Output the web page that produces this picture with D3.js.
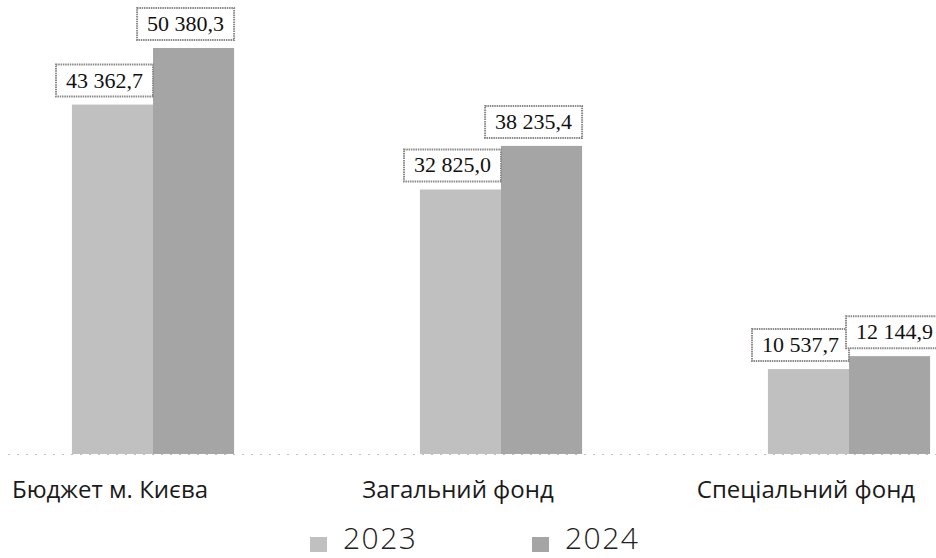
<!DOCTYPE html>
<html><head><meta charset="utf-8">
<script src="https://cdn.jsdelivr.net/npm/d3@7"></script>
<style>body{margin:0;background:#fff}svg{display:block}</style>
</head><body><svg id="c" width="936" height="558"></svg>
<script>
const categories = ["Бюджет м. Києва", "Загальний фонд", "Спеціальний фонд"];
const seriesNames = ["2023", "2024"];
const values2023 = [43362.7, 32825.0, 10537.7];
const values2024 = [50380.3, 38235.4, 12144.9];
const labels2023 = ["43 362,7", "32 825,0", "10 537,7"];
const labels2024 = ["50 380,3", "38 235,4", "12 144,9"];

const colors = {"2023": "#c0c0c0", "2024": "#a5a5a5"};
const svg = d3.select("#c");
const W = 936, H = 558, base = 454;

const x0 = d3.scaleBand().domain(categories).range([-21, 1023]).paddingInner(0.534).paddingOuter(0.267);
const x1 = d3.scaleBand().domain(seriesNames).range([0, x0.bandwidth()]).padding(0);
const y = d3.scaleLinear().domain([0, 56340]).range([base, 0]);

// baseline (dotted)
svg.append("line").attr("x1", 8).attr("x2", W).attr("y1", base + 0.5).attr("y2", base + 0.5)
  .attr("stroke", "#bdbdbd").attr("stroke-width", 1.2).attr("stroke-dasharray", "2 7");

const rows = categories.map((c, i) => ({c, vals: [
  {s: "2023", v: values2023[i], t: labels2023[i]},
  {s: "2024", v: values2024[i], t: labels2024[i]}]}));

const g = svg.selectAll("g.grp").data(rows).join("g").attr("class", "grp")
  .attr("transform", d => `translate(${x0(d.c)},0)`);

g.selectAll("rect.bar").data(d => d.vals).join("rect").attr("class", "bar")
  .attr("x", d => x1(d.s)).attr("width", x1.bandwidth())
  .attr("y", d => y(d.v)).attr("height", d => base - y(d.v))
  .attr("fill", d => colors[d.s]);

// data labels (boxes right-aligned to bar edge, nudged right if they would cover the neighbour)
g.each(function(row) {
  const gx = x0(row.c);
  let prev = null;
  row.vals.forEach(d => {
    const sel = d3.select(this).append("g").attr("class", "lbl");
    const txt = sel.append("text").text(d.t)
      .attr("font-family", "'Liberation Serif', 'Times New Roman', serif")
      .attr("font-size", 22).attr("fill", "#111");
    const tw = txt.node().getComputedTextLength();
    const padX = 10, bh = 32;
    const right = x1(d.s) + x1.bandwidth();
    const bottom = y(d.v) - 8;
    const top = bottom - bh;
    let left = right - tw - 2 * padX;
    if (prev && top < prev.bottom && bottom > prev.top && left < prev.right - 3) left = prev.right - 3;
    let boxW = tw + 2 * padX;
    if (gx + left + boxW > W + 6) boxW = W + 6 - gx - left;
    sel.insert("rect", "text")
      .attr("x", left).attr("y", top)
      .attr("width", boxW).attr("height", bh)
      .attr("fill", "#fff").attr("stroke", "#8a8a8a").attr("stroke-width", 2)
      .attr("stroke-dasharray", "1.5 0.8");
    let tx = left + padX;
    if (gx + tx + tw > W - 2) tx = W - 2 - gx - tw;
    txt.attr("x", tx).attr("y", bottom - 9);
    prev = {top, bottom, right: left + boxW};
  });
});

// category labels
svg.selectAll("text.cat").data(categories).join("text").attr("class", "cat")
  .attr("x", d => x0(d) + x0.bandwidth() / 2 - 43).attr("y", 498)
  .attr("text-anchor", "middle")
  .attr("font-family", "'Open Sans', 'Noto Sans', sans-serif")
  .attr("font-size", 24).attr("fill", "#1a1a1a").text(d => d);

// legend
const legX = {"2023": 310, "2024": 532};
const leg = svg.selectAll("g.leg").data(seriesNames).join("g").attr("class", "leg")
  .attr("transform", d => `translate(${legX[d]},0)`);
leg.append("rect").attr("x", 0).attr("y", 537).attr("width", 17).attr("height", 15)
  .attr("fill", d => colors[d]);
leg.append("text").attr("x", 33).attr("y", 549)
  .attr("font-family", "'Open Sans', 'Noto Sans', sans-serif").attr("font-weight", 300)
  .attr("font-size", 30).attr("letter-spacing", 1.5).attr("fill", "#222").text(d => d);
</script></body></html>
